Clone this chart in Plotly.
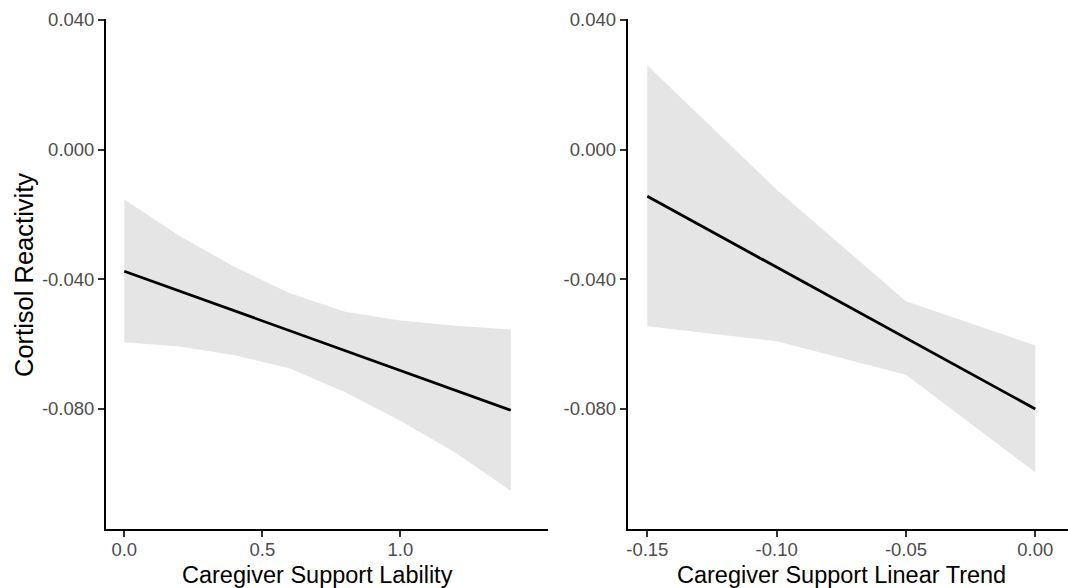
import plotly.graph_objects as go

# Model predictions: cortisol reactivity vs. caregiver support lability
lability_x = [0.0, 0.2, 0.4, 0.6, 0.8, 1.0, 1.2, 1.4]
lability_fit = [-0.0375, -0.0436, -0.0498, -0.0559, -0.0620, -0.0681, -0.0743, -0.0804]
lability_upper = [-0.0154, -0.0266, -0.0362, -0.0443, -0.0500, -0.0527, -0.0543, -0.0555]
lability_lower = [-0.0594, -0.0607, -0.0634, -0.0675, -0.0748, -0.0836, -0.0935, -0.1052]

# Model predictions: cortisol reactivity vs. caregiver support linear trend
trend_x = [-0.15, -0.10, -0.05, 0.0]
trend_fit = [-0.0144, -0.0363, -0.0581, -0.0800]
trend_upper = [0.0260, -0.0123, -0.0468, -0.0604]
trend_lower = [-0.0545, -0.0591, -0.0694, -0.0995]

y_ticks = [-0.08, -0.04, 0.0, 0.04]
y_ticktext = ["-0.080", "-0.040", "0.000", "0.040"]
lab_ticks = [0.0, 0.5, 1.0]
lab_ticktext = ["0.0", "0.5", "1.0"]
trend_ticks = [-0.15, -0.10, -0.05, 0.0]
trend_ticktext = ["-0.15", "-0.10", "-0.05", "0.00"]

FONT = "Liberation Sans, Arial, sans-serif"
RIBBON = "rgb(229,229,229)"

fig = go.Figure()


def add_panel(x, fit, lo, hi, xa, ya):
    fig.add_trace(go.Scatter(x=x, y=hi, mode="lines", line=dict(width=0),
                             showlegend=False, hoverinfo="skip", xaxis=xa, yaxis=ya))
    fig.add_trace(go.Scatter(x=x, y=lo, mode="lines", line=dict(width=0),
                             fill="tonexty", fillcolor=RIBBON,
                             showlegend=False, hoverinfo="skip", xaxis=xa, yaxis=ya))
    fig.add_trace(go.Scatter(x=x, y=fit, mode="lines",
                             line=dict(color="black", width=2.8),
                             showlegend=False, xaxis=xa, yaxis=ya))


add_panel(lability_x, lability_fit, lability_lower, lability_upper, "x", "y")
add_panel(trend_x, trend_fit, trend_lower, trend_upper, "x2", "y2")

axis_common = dict(
    showgrid=False, zeroline=False, showline=True, linecolor="black", linewidth=1.8,
    ticks="outside", ticklen=6, tickwidth=1.5, tickcolor="#333333",
    tickfont=dict(family=FONT, size=18.5, color="#4d4d4d"),
    automargin=False,
)
x_extra = dict(ticklabelstandoff=-3)

fig.update_layout(
    width=1068, height=588,
    margin=dict(l=106, r=0, t=19, b=59),
    paper_bgcolor="white", plot_bgcolor="white",
    font=dict(family=FONT),
    xaxis=dict(domain=[0, 0.4591], range=[-0.0663, 1.5335],
               tickvals=lab_ticks, ticktext=lab_ticktext, anchor="y", **axis_common, **x_extra),
    yaxis=dict(domain=[0, 1], range=[-0.11702, 0.0403],
               tickvals=y_ticks, ticktext=y_ticktext, anchor="x", **axis_common),
    xaxis2=dict(domain=[0.5423, 1], range=[-0.15758, 0.01264],
                tickvals=trend_ticks, ticktext=trend_ticktext, anchor="y2", **axis_common, **x_extra),
    yaxis2=dict(domain=[0, 1], range=[-0.11702, 0.0403],
                tickvals=y_ticks, ticktext=y_ticktext, anchor="x2", **axis_common),
)

title_font = dict(family=FONT, size=23.5, color="black")
fig.add_annotation(text="Caregiver Support Lability", xref="paper", yref="paper",
                   x=(317.5 - 106) / 962, y=(529 - 575) / 510, xanchor="center", yanchor="middle",
                   showarrow=False, font=title_font)
fig.add_annotation(text="Caregiver Support Linear Trend", xref="paper", yref="paper",
                   x=(841 - 106) / 962, y=(529 - 575) / 510, xanchor="center", yanchor="middle",
                   showarrow=False, font=title_font)
fig.add_annotation(text="Cortisol Reactivity", xref="paper", yref="paper",
                   x=(24 - 106) / 962, y=(529 - 275) / 510, xanchor="center", yanchor="middle",
                   textangle=-90, showarrow=False, font=dict(family=FONT, size=25.5, color="black"))

fig.write_html("out.html")
